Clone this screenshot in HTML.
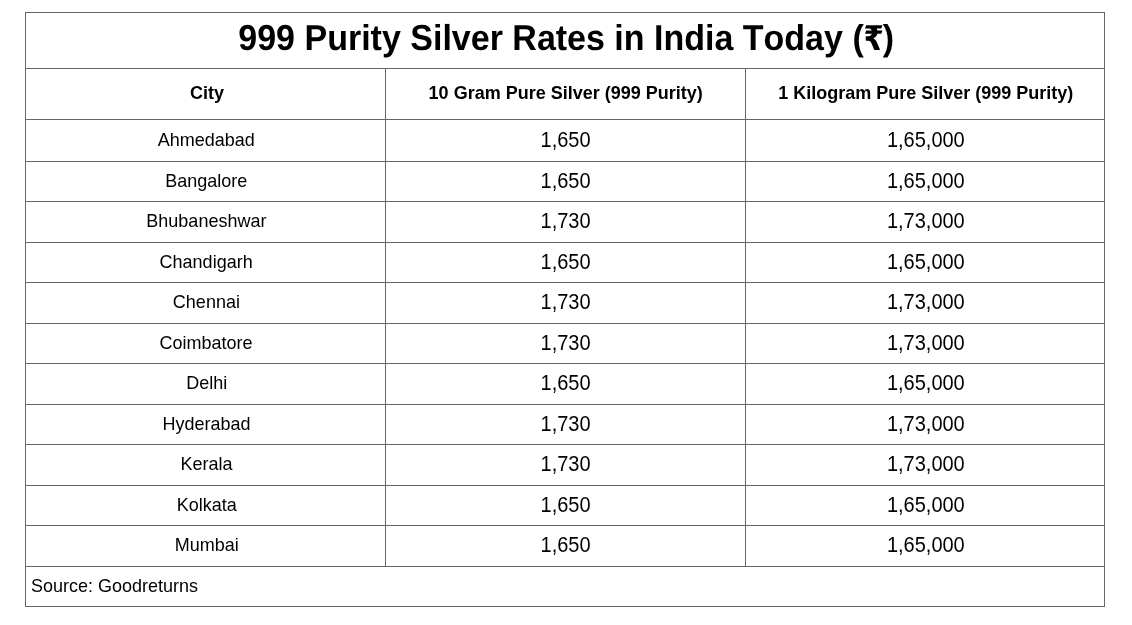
<!DOCTYPE html>
<html lang="en">
<head>
<meta charset="utf-8">
<title>999 Purity Silver Rates in India Today</title>
<style>
html,body{margin:0;padding:0;background:#fff;}
body{width:1132px;height:625px;position:relative;overflow:hidden;
  font-family:"Liberation Sans",Arial,Helvetica,sans-serif;color:#000;}
.hl,.vl{position:absolute;background:#666666;}
.hl{height:1px;left:25px;width:1080px;}
.vl{width:1px;}
.c{position:absolute;display:flex;align-items:center;justify-content:center;
  white-space:nowrap;line-height:1;will-change:transform;font-kerning:none;}
.gp{text-rendering:geometricPrecision;}
.c>span{display:inline-block;position:relative;transform-origin:50% 50%;}
.title{font-weight:bold;font-size:36px;}
.title>span{top:-3px;left:1.5px;transform:scaleX(0.9444);}
.rupee{display:inline-block;font-family:"DejaVu Sans",sans-serif;font-weight:bold;font-size:34px;
  line-height:1;transform:scaleX(0.913);transform-origin:0 50%;
  margin-left:-0.71px;margin-right:-2.94px;position:relative;top:0px;}
.head{font-weight:bold;font-size:19px;}
.head>span{transform:scaleX(0.9474);}
.city{font-size:19px;}
.city>span{transform:scaleX(0.9474);}
.num{font-size:22px;}
.num>span{transform:scaleX(0.9091);}
.src{font-size:19px;justify-content:flex-start;padding-left:5px;box-sizing:border-box;}
.src>span{transform:scaleX(0.9474);transform-origin:0 50%;}
</style>
</head>
<body>
<div class="hl" style="top:12px"></div>
<div class="hl" style="top:68px"></div>
<div class="hl" style="top:119px"></div>
<div class="hl" style="top:161px"></div>
<div class="hl" style="top:201px"></div>
<div class="hl" style="top:242px"></div>
<div class="hl" style="top:282px"></div>
<div class="hl" style="top:323px"></div>
<div class="hl" style="top:363px"></div>
<div class="hl" style="top:404px"></div>
<div class="hl" style="top:444px"></div>
<div class="hl" style="top:485px"></div>
<div class="hl" style="top:525px"></div>
<div class="hl" style="top:566px"></div>
<div class="hl" style="top:606px"></div>
<div class="vl" style="left:25px;top:12px;height:595px"></div>
<div class="vl" style="left:1104px;top:12px;height:595px"></div>
<div class="vl" style="left:385px;top:68px;height:499px"></div>
<div class="vl" style="left:745px;top:68px;height:499px"></div>
<div class="c title gp" style="left:26px;top:13px;width:1078px;height:55px"><span>999 Purity Silver Rates in India Today (<span class="rupee">&#8377;</span>)</span></div>
<div class="c head" style="left:27px;top:67px;width:359px;height:50px"><span>City</span></div>
<div class="c head" style="left:386px;top:67px;width:359px;height:50px"><span>10 Gram Pure Silver (999 Purity)</span></div>
<div class="c head" style="left:747px;top:67px;width:358px;height:50px"><span>1 Kilogram Pure Silver (999 Purity)</span></div>
<div class="c city" style="left:27px;top:119px;width:359px;height:41px"><span>Ahmedabad</span></div>
<div class="c num" style="left:386px;top:119px;width:359px;height:42px"><span>1,650</span></div>
<div class="c num" style="left:747px;top:119px;width:358px;height:42px"><span>1,65,000</span></div>
<div class="c city" style="left:27px;top:161px;width:359px;height:39px"><span>Bangalore</span></div>
<div class="c num" style="left:386px;top:161px;width:359px;height:40px"><span>1,650</span></div>
<div class="c num" style="left:747px;top:161px;width:358px;height:40px"><span>1,65,000</span></div>
<div class="c city" style="left:27px;top:201px;width:359px;height:39px"><span>Bhubaneshwar</span></div>
<div class="c num" style="left:386px;top:201px;width:359px;height:40px"><span>1,730</span></div>
<div class="c num" style="left:747px;top:201px;width:358px;height:40px"><span>1,73,000</span></div>
<div class="c city" style="left:27px;top:242px;width:359px;height:39px"><span>Chandigarh</span></div>
<div class="c num" style="left:386px;top:242px;width:359px;height:40px"><span>1,650</span></div>
<div class="c num" style="left:747px;top:242px;width:358px;height:40px"><span>1,65,000</span></div>
<div class="c city" style="left:27px;top:282px;width:359px;height:39px"><span>Chennai</span></div>
<div class="c num" style="left:386px;top:282px;width:359px;height:40px"><span>1,730</span></div>
<div class="c num" style="left:747px;top:282px;width:358px;height:40px"><span>1,73,000</span></div>
<div class="c city" style="left:27px;top:323px;width:359px;height:39px"><span>Coimbatore</span></div>
<div class="c num" style="left:386px;top:323px;width:359px;height:40px"><span>1,730</span></div>
<div class="c num" style="left:747px;top:323px;width:358px;height:40px"><span>1,73,000</span></div>
<div class="c city" style="left:27px;top:363px;width:359px;height:39px"><span>Delhi</span></div>
<div class="c num" style="left:386px;top:363px;width:359px;height:40px"><span>1,650</span></div>
<div class="c num" style="left:747px;top:363px;width:358px;height:40px"><span>1,65,000</span></div>
<div class="c city" style="left:27px;top:404px;width:359px;height:39px"><span>Hyderabad</span></div>
<div class="c num" style="left:386px;top:404px;width:359px;height:40px"><span>1,730</span></div>
<div class="c num" style="left:747px;top:404px;width:358px;height:40px"><span>1,73,000</span></div>
<div class="c city" style="left:27px;top:444px;width:359px;height:39px"><span>Kerala</span></div>
<div class="c num" style="left:386px;top:444px;width:359px;height:40px"><span>1,730</span></div>
<div class="c num" style="left:747px;top:444px;width:358px;height:40px"><span>1,73,000</span></div>
<div class="c city" style="left:27px;top:485px;width:359px;height:39px"><span>Kolkata</span></div>
<div class="c num" style="left:386px;top:485px;width:359px;height:40px"><span>1,650</span></div>
<div class="c num" style="left:747px;top:485px;width:358px;height:40px"><span>1,65,000</span></div>
<div class="c city" style="left:27px;top:525px;width:359px;height:39px"><span>Mumbai</span></div>
<div class="c num" style="left:386px;top:525px;width:359px;height:40px"><span>1,650</span></div>
<div class="c num" style="left:747px;top:525px;width:358px;height:40px"><span>1,65,000</span></div>
<div class="c src" style="left:26px;top:566px;width:1078px;height:39px"><span>Source: Goodreturns</span></div>
</body>
</html>
